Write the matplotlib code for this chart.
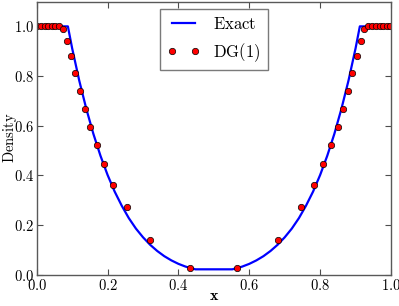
import matplotlib
matplotlib.use('Agg')
import matplotlib.pyplot as plt
from matplotlib.ticker import FuncFormatter, MultipleLocator

plt.rcParams['mathtext.fontset'] = 'cm'
plt.rcParams['font.family'] = 'serif'

# exact solution (left half of the double rarefaction, right half mirrored)
exact_x_left = [0.0, 0.088, 0.10, 0.12, 0.14, 0.16, 0.18, 0.20, 0.22, 0.24, 0.26,
                0.28, 0.30, 0.32, 0.34, 0.36, 0.38, 0.40, 0.42, 0.44, 0.448]
exact_rho_left = [1.0, 1.0, 0.912, 0.782, 0.668, 0.567, 0.479, 0.402, 0.335, 0.278, 0.228,
                  0.186, 0.151, 0.121, 0.096, 0.075, 0.058, 0.044, 0.033, 0.025, 0.022]

# DG(1) solution points, left half
dg_x_left = [0.002, 0.012, 0.022, 0.032, 0.043, 0.053, 0.064, 0.075, 0.086, 0.097,
             0.109, 0.121, 0.135, 0.151, 0.170, 0.191, 0.216, 0.254, 0.319, 0.434]
dg_rho_left = [1.0, 1.0, 1.0, 1.0, 1.0, 1.0, 1.0, 0.989, 0.943, 0.880,
               0.811, 0.741, 0.669, 0.596, 0.521, 0.444, 0.363, 0.273, 0.139, 0.028]

exact_x = exact_x_left + [round(1 - v, 3) for v in exact_x_left[::-1]]
exact_rho = exact_rho_left + exact_rho_left[::-1]
dg_x = dg_x_left + [round(1 - v, 3) for v in dg_x_left[::-1]]
dg_rho = dg_rho_left + dg_rho_left[::-1]

fig = plt.figure(figsize=(3.99, 3.06), dpi=100)
ax = fig.add_axes([0.092, 0.102, 0.888, 0.893])

ax.plot(exact_x, exact_rho, color='blue', linewidth=1.6, label=r'$\mathrm{Exact}$')
ax.plot(dg_x, dg_rho, linestyle='none', marker='o', markersize=4.6,
        markerfacecolor='red', markeredgecolor='black', markeredgewidth=0.5,
        label=r'$\mathrm{DG(1)}$')

ax.set_xlim(0, 1)
ax.set_ylim(0, 1.1)
ax.xaxis.set_major_locator(MultipleLocator(0.2))
ax.yaxis.set_major_locator(MultipleLocator(0.2))
fmt = FuncFormatter(lambda v, p: r'$%.1f$' % v)
ax.xaxis.set_major_formatter(fmt)
ax.yaxis.set_major_formatter(fmt)
ax.tick_params(direction='in', top=True, right=True, labelsize=10.5, length=4,
               color='0.3', pad=2)
for s in ax.spines.values():
    s.set_color('0.35')
    s.set_linewidth(1.0)

ax.set_xlabel(r'$\mathbf{x}$', fontsize=11.5, labelpad=-4)
ax.set_ylabel(r'$\mathrm{Density}$', fontsize=10.5)
ax.yaxis.set_label_coords(-0.05, 0.5)

leg = ax.legend(loc='upper center', numpoints=2, fontsize=12, fancybox=False,
                borderaxespad=0.45, handlelength=2.0, bbox_to_anchor=(0.5, 1.0))
leg.get_frame().set_edgecolor('0.35')
leg.get_frame().set_linewidth(1.0)

plt.savefig('out.png', dpi=100)
plt.close()
